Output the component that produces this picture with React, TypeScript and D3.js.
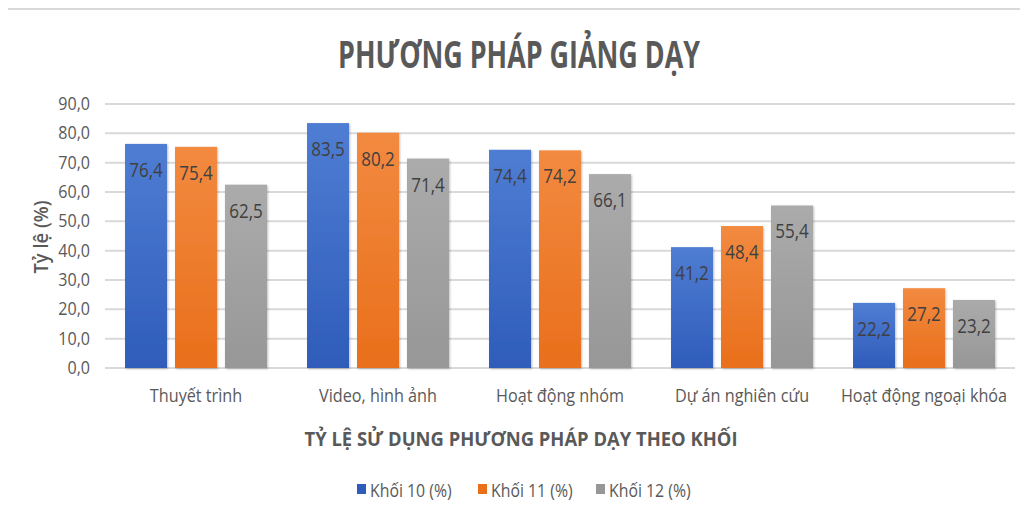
import React, { useRef, useEffect } from 'react';
import * as d3 from 'd3';

const CATEGORIES = ["Thuyết trình", "Video, hình ảnh", "Hoạt động nhóm", "Dự án nghiên cứu", "Hoạt động ngoại khóa"];
const SERIES = ["Khối 10 (%)", "Khối 11 (%)", "Khối 12 (%)"];
const KHOI_10 = [76.4, 83.5, 74.4, 41.2, 22.2];
const KHOI_11 = [75.4, 80.2, 74.2, 48.4, 27.2];
const KHOI_12 = [62.5, 71.4, 66.1, 55.4, 23.2];
const Y_TICKS = [0, 10, 20, 30, 40, 50, 60, 70, 80, 90];

const COLORS = [
    { top: "#4f7dd3", bottom: "#2f5cba" },
    { top: "#f28a40", bottom: "#e96f1b" },
    { top: "#ababab", bottom: "#979797" }
];

const FONT = "'Open Sans', 'Noto Sans', sans-serif";
const TEXT = "#595959";

const App: React.FC = () => {
    const svgRef = useRef<SVGSVGElement>(null);

    useEffect(() => {
        if (!svgRef.current) return;
        const svg = d3.select(svgRef.current);
        svg.selectAll("*").remove();

        const values = [KHOI_10, KHOI_11, KHOI_12];
        const left = 105, right = 1015, top = 104, bottom = 368;

        const x0 = d3.scaleBand().domain(CATEGORIES).range([left, right]).paddingInner(0.22).paddingOuter(0.11);
        const x1 = d3.scaleBand().domain(SERIES).range([0, x0.bandwidth()]).paddingInner(0.16);
        const y = d3.scaleLinear().domain([0, 90]).range([bottom, top]);

        const defs = svg.append("defs");
        COLORS.forEach((c, i) => {
            const grad = defs.append("linearGradient")
                .attr("id", `grad${i}`)
                .attr("x1", 0).attr("y1", 0).attr("x2", 0).attr("y2", 1);
            grad.append("stop").attr("offset", "0%").attr("stop-color", c.top);
            grad.append("stop").attr("offset", "100%").attr("stop-color", c.bottom);
        });
        const shadow = defs.append("filter").attr("id", "shadow")
            .attr("x", "-20%").attr("y", "-20%").attr("width", "140%").attr("height", "140%");
        shadow.append("feDropShadow")
            .attr("dx", 1).attr("dy", 1).attr("stdDeviation", 1.2)
            .attr("flood-color", "#000").attr("flood-opacity", 0.25);

        // outer frame
        svg.append("path")
            .attr("d", "M4,520 L4,9 L1028,9")
            .attr("fill", "none")
            .attr("stroke", "#d9d9d9")
            .attr("stroke-width", 2);

        const sx = (g: any, x: number, yy: number, s: number) =>
            g.attr("transform", `translate(${x},${yy}) scale(${s},1)`);

        // title
        svg.append("text")
            .attr("x", 519).attr("y", 68)
            .attr("text-anchor", "middle")
            .attr("font-family", FONT)
            .attr("font-weight", 700)
            .attr("font-size", 37)
            .attr("fill", TEXT)
            .attr("textLength", 362)
            .attr("lengthAdjust", "spacingAndGlyphs")
            .text("PHƯƠNG PHÁP GIẢNG DẠY");

        // gridlines
        svg.append("g")
            .selectAll("line")
            .data(Y_TICKS)
            .join("line")
            .attr("x1", left).attr("x2", right)
            .attr("y1", d => y(d)).attr("y2", d => y(d))
            .attr("stroke", "#d9d9d9")
            .attr("stroke-width", 2);

        // y tick labels
        svg.append("g")
            .selectAll("text")
            .data(Y_TICKS)
            .join("text")
            .each(function (d) { sx(d3.select(this), 90, y(d) + 6, 0.92); })
            .attr("text-anchor", "end")
            .attr("font-family", FONT)
            .attr("font-size", 17.5)
            .attr("fill", TEXT)
            .text(d => d3.format(".1f")(d).replace(".", ","));

        // y axis title
        svg.append("text")
            .attr("transform", `translate(48,237) rotate(-90) scale(0.92,1)`)
            .attr("text-anchor", "middle")
            .attr("font-family", FONT)
            .attr("font-weight", 600)
            .attr("font-size", 20)
            .attr("fill", TEXT)
            .text("Tỷ lệ (%)");

        // bars
        const groups = svg.append("g")
            .selectAll("g")
            .data(CATEGORIES)
            .join("g")
            .attr("transform", d => `translate(${x0(d)},0)`);

        groups.selectAll("rect")
            .data((_, ci) => SERIES.map((s, si) => ({ s, si, v: values[si][ci] })))
            .join("rect")
            .attr("x", d => x1(d.s)!)
            .attr("y", d => y(d.v))
            .attr("width", x1.bandwidth())
            .attr("height", d => y(0) - y(d.v))
            .attr("fill", d => `url(#grad${d.si})`)
            .attr("filter", "url(#shadow)");

        groups.selectAll("text")
            .data((_, ci) => SERIES.map((s, si) => ({ s, si, v: values[si][ci] })))
            .join("text")
            .each(function (d) { sx(d3.select(this), x1(d.s)! + x1.bandwidth() / 2, y(d.v) + 33, 0.85); })
            .attr("text-anchor", "middle")
            .attr("font-family", FONT)
            .attr("font-size", 20)
            .attr("fill", "#404040")
            .text(d => d3.format(".1f")(d.v).replace(".", ","));

        // category labels
        svg.append("g")
            .selectAll("text")
            .data(CATEGORIES)
            .join("text")
            .each(function (d) { sx(d3.select(this), x0(d)! + x0.bandwidth() / 2, 402, 0.9); })
            .attr("text-anchor", "middle")
            .attr("font-family", FONT)
            .attr("font-size", 18)
            .attr("fill", TEXT)
            .text(d => d);

        // x axis title
        svg.append("text")
            .attr("x", 521).attr("y", 446)
            .attr("text-anchor", "middle")
            .attr("font-family", FONT)
            .attr("font-weight", 700)
            .attr("font-size", 19)
            .attr("fill", TEXT)
            .attr("textLength", 433)
            .attr("lengthAdjust", "spacingAndGlyphs")
            .text("TỶ LỆ SỬ DỤNG PHƯƠNG PHÁP DẠY THEO KHỐI");

        // legend
        const legendX = [357, 478, 596];
        const legend = svg.append("g");
        SERIES.forEach((s, i) => {
            legend.append("rect")
                .attr("x", legendX[i]).attr("y", 484)
                .attr("width", 9).attr("height", 10)
                .attr("fill", COLORS[i].bottom);
            sx(legend.append("text"), legendX[i] + 13, 497, 0.88)
                .attr("font-family", FONT)
                .attr("font-size", 18)
                .attr("fill", TEXT)
                .text(s);
        });
    }, []);

    return (
        <div style={{ width: 1028, height: 520, margin: -8, background: "#fff" }}>
            <svg ref={svgRef} width={1028} height={520} style={{ display: "block" }} />
        </div>
    );
};

export default App;
